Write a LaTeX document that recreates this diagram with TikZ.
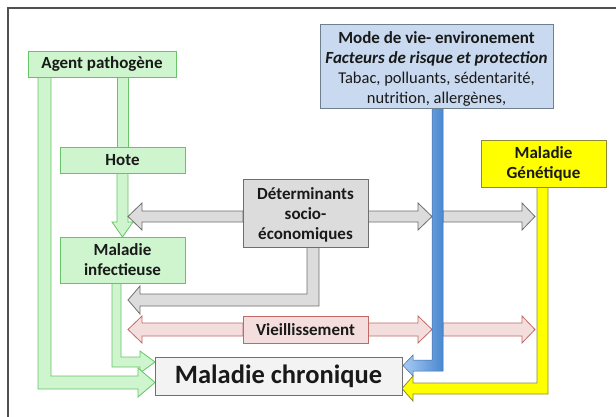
\documentclass[tikz,border=0pt]{standalone}
\usepackage{fontspec}
\setmainfont{Carlito}
\usetikzlibrary{backgrounds}
\definecolor{gfill}{HTML}{CEF5CE}
\definecolor{gdraw}{HTML}{66C466}
\definecolor{grfill}{HTML}{DCDCDC}
\definecolor{grdraw}{HTML}{6E6E6E}
\definecolor{bfill}{HTML}{C9DAF0}
\definecolor{bdraw}{HTML}{6F7F90}
\definecolor{bdark}{HTML}{4A88D0}
\definecolor{blight}{HTML}{A8CBF2}
\definecolor{yfill}{HTML}{FFFF00}
\definecolor{ydraw}{HTML}{8A8A3A}
\definecolor{rfill}{HTML}{F4DEDD}
\definecolor{rdraw}{HTML}{C06A66}
\definecolor{cfill}{HTML}{F3F3F3}
\definecolor{cdraw}{HTML}{707070}
\definecolor{frame}{HTML}{505050}
\tikzset{
  box/.style={draw, rectangle, inner sep=0pt, align=center, line width=0.8pt,
    font=\bfseries\fontsize{17}{20}\selectfont, text=black!90},
  greenbox/.style={box, fill=gfill, draw=gdraw},
  graybox/.style={box, fill=grfill, draw=grdraw},
  redbox/.style={box, fill=rfill, draw=rdraw},
  bluebox/.style={box, fill=bfill, draw=bdraw},
  yellowbox/.style={box, fill=yfill, draw=ydraw},
  chronbox/.style={box, fill=cfill, draw=cdraw, font=\bfseries\fontsize{26.5}{30}\selectfont},
  garrow/.style={fill=gfill, draw=gdraw, line width=0.8pt, line join=miter},
  grarrow/.style={fill=grfill, draw=grdraw, line width=0.8pt, line join=miter},
  rarrow/.style={fill=rfill, draw=rdraw, line width=0.8pt, line join=miter},
  yarrow/.style={fill=yfill, draw=ydraw, line width=0.8pt, line join=miter},
}
\begin{document}
\begin{tikzpicture}[x=1pt,y=-1pt]
\useasboundingbox (0,0) rectangle (616,417);
% frame
\draw[frame, line width=1.2pt] (616,8) -- (8,8) -- (8,417);

% nodes
\node[greenbox, minimum width=148pt, minimum height=26pt] (agent) at (102,64) {Agent pathogène};
\node[greenbox, minimum width=125pt, minimum height=26pt] (hote) at (122.5,160) {Hote};
\node[greenbox, minimum width=125pt, minimum height=46pt] (infect) at (122.5,260) {Maladie\\infectieuse};
\node[graybox, minimum width=125pt, minimum height=68pt] (deter) at (305.5,213) {\rule{0pt}{16pt}Déterminants\\socio-\\économiques};
\node[redbox, minimum width=125pt, minimum height=27pt] (vieil) at (305.5,329.5) {Vieillissement};
\node[bluebox, minimum width=233pt, minimum height=84pt] (mode) at (436.5,66)
  {\rule{0pt}{18pt}Mode de vie- environement\\\textit{Facteurs de risque et protection}\\
   {\mdseries\fontsize{16.5}{19.5}\selectfont Tabac, polluants, sédentarité,}\\
   {\mdseries\fontsize{16.5}{19.5}\selectfont nutrition, allergènes,}};
\node[yellowbox, minimum width=125pt, minimum height=47pt] (gene) at (543.5,163.5) {Maladie\\Génétique};
\node[chronbox, minimum width=247pt, minimum height=38pt] (chron) at (278.5,376) {Maladie chronique};

\begin{scope}[on background layer]
% green: agent -> hote (plain bar)
\draw[garrow] (117,77) rectangle (128,147);
% green: infect -> chronique
\draw[garrow] (112,283) -- (121,283) -- (121,357) -- (140,357) -- (140,351) -- (155,362)
  -- (140,373) -- (140,367) -- (112,367) -- cycle;
% green: agent -> chronique (outer)
\draw[garrow] (38,77) -- (51,77) -- (51,376) -- (138,376) -- (138,368) -- (155,382.5)
  -- (138,397) -- (138,389) -- (38,389) -- cycle;
% green: hote -> infect
\draw[garrow] (117,173) -- (128,173) -- (128,222) -- (133,222) -- (122.5,237)
  -- (112,222) -- (117,222) -- cycle;
% gray: deter -> left
\draw[grarrow] (243,211) -- (142,211) -- (142,203) -- (128,216.5) -- (142,230)
  -- (142,222) -- (243,222) -- cycle;
% gray: deter -> right (1)
\draw[grarrow] (368,211) -- (418,211) -- (418,203) -- (432,216.5) -- (418,230)
  -- (418,222) -- (368,222) -- cycle;
% gray: right (2)
\draw[grarrow] (443,211) -- (522,211) -- (522,203) -- (535,216.5) -- (522,230)
  -- (522,222) -- (443,222) -- cycle;
% gray: deter -> down -> left
\draw[grarrow] (307,247) -- (319,247) -- (319,306) -- (140,306) -- (140,314)
  -- (128,300) -- (140,286) -- (140,294) -- (307,294) -- cycle;
% red arrows
\draw[rarrow] (243,323) -- (142,323) -- (142,316) -- (128,329.5) -- (142,343)
  -- (142,336) -- (243,336) -- cycle;
\draw[rarrow] (368,323) -- (418,323) -- (418,316) -- (432,329.5) -- (418,343)
  -- (418,336) -- (368,336) -- cycle;
\draw[rarrow] (443,323) -- (522,323) -- (522,316) -- (535,329.5) -- (522,343)
  -- (522,336) -- (443,336) -- cycle;
% blue: mode -> chronique
\shade[left color=blight, right color=bdark, draw=bdark!80!black, line width=0.5pt]
  (432,108) -- (443,108) -- (443,371) -- (413,371) -- (413,376) -- (403,365.5)
  -- (413,355) -- (413,360) -- (432,360) -- cycle;
% yellow: gene -> chronique
\draw[yarrow] (537,187) -- (548,187) -- (548,394) -- (413,394) -- (413,401)
  -- (402,388.5) -- (413,376) -- (413,383) -- (537,383) -- cycle;
\end{scope}
\end{tikzpicture}
\end{document}
